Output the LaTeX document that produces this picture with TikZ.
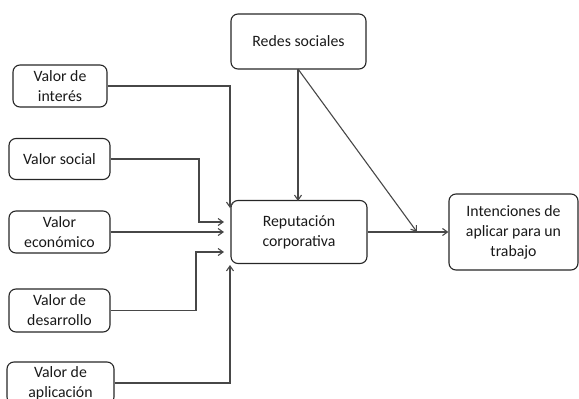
\documentclass[tikz,border=0pt]{standalone}
\usepackage{fontspec}
\setmainfont{Carlito}
\usetikzlibrary{arrows.meta}
\begin{document}
\begin{tikzpicture}[x=1pt,y=-1pt,
  box/.style={draw=black!85, line width=1.1pt, rounded corners=7pt, align=center, inner sep=0pt,
    font=\fontsize{15.8}{20}\selectfont, text=black!90},
  conn/.style={draw=black!72, line width=1.1pt, -{Straight Barb[length=5pt,width=7pt]}}]
\useasboundingbox (0,0) rectangle (579,399);
\clip (0,0) rectangle (579,399);
\node[box, minimum width=135pt, minimum height=55pt] (redes) at (298.5,41.5) {Redes sociales};
\node[box, minimum width=136pt, minimum height=63pt] (rep) at (299,232) {Reputación\\corporativa};
\node[box, minimum width=129pt, minimum height=76pt] (int) at (513.5,232) {Intenciones de\\aplicar para un\\trabajo};
\node[box, minimum width=94pt, minimum height=42pt] (vi) at (60,86) {Valor de\\interés};
\node[box, minimum width=101pt, minimum height=41pt] (vs) at (59.5,159) {Valor social};
\node[box, minimum width=101pt, minimum height=42pt] (ve) at (59.5,232) {Valor\\económico};
\node[box, minimum width=101pt, minimum height=43pt] (vd) at (59.5,310.5) {Valor de\\desarrollo};
\node[box, minimum width=107pt, minimum height=42pt] (va) at (60.5,383) {Valor de\\aplicación};
\coordinate (p1) at (230,208);
\coordinate (p2) at (224,222);
\coordinate (p3) at (224,232);
\coordinate (p4) at (224,252);
\coordinate (p5) at (230,265);
\coordinate (mid) at (417,232);
\draw[conn] (vi.east |- 0,86) -| (p1);
\draw[conn] (vs.east) -| (199,222) -- (p2);
\draw[conn] (ve.east) -- (p3);
\draw[conn] (vd.east) -| (196,252) -- (p4);
\draw[conn] (va.east) -| (p5);
\draw[conn] (298,69) -- (298,201);
\draw[conn] (298,69) -- (mid);
\draw[conn] (rep.east) -- (int.west);
\end{tikzpicture}
\end{document}
